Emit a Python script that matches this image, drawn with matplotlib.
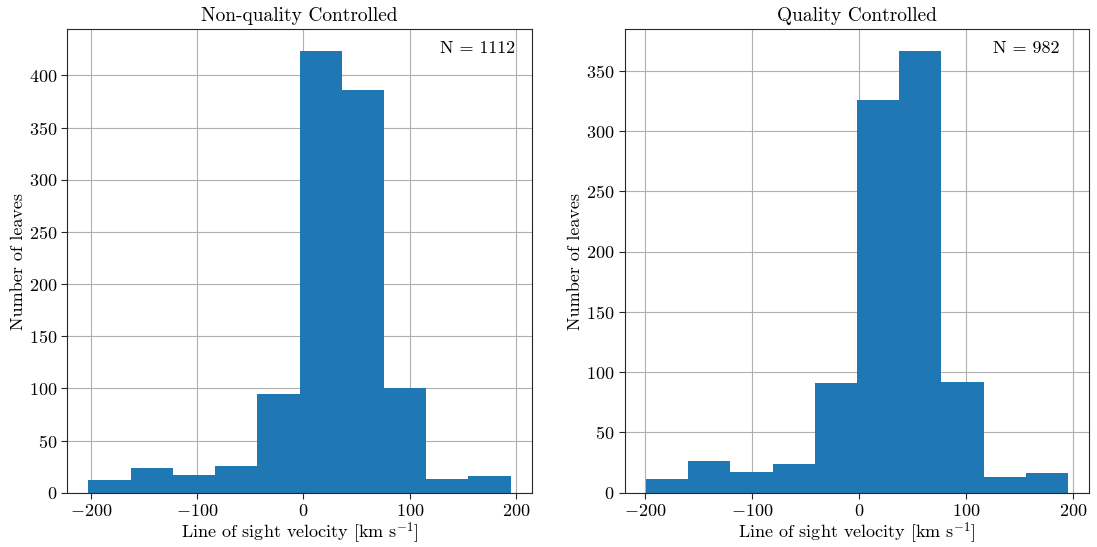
import numpy as np
import matplotlib
matplotlib.use("Agg")
import matplotlib.pyplot as plt

plt.rcParams['font.family'] = 'serif'
plt.rcParams['font.serif'] = ['cmr10']
plt.rcParams['mathtext.fontset'] = 'cm'
plt.rcParams['axes.formatter.use_mathtext'] = True
plt.rcParams['axes.unicode_minus'] = True

# bin edges (km/s) and counts
edges_raw = np.linspace(-202.2, 195.0, 11)
counts_raw = [12, 24, 17, 26, 95, 423, 386, 100, 13, 16]
edges_qc = np.linspace(-199.1, 195.1, 11)
counts_qc = [11, 26, 17, 24, 91, 326, 366, 92, 13, 16]

titles = ['Non-quality Controlled', 'Quality Controlled']
n_labels = ['N = 1112', 'N = 982']
n_xpos = [0.802, 0.793]

fig = plt.figure(figsize=(10.97, 5.47), dpi=100)
ax1 = fig.add_axes([0.0614, 0.0993, 0.4234, 0.847])
ax2 = fig.add_axes([0.5697, 0.0993, 0.4230, 0.847])

for ax, edges, counts, title, nlab, nx in zip([ax1, ax2], [edges_raw, edges_qc],
                                              [counts_raw, counts_qc], titles, n_labels, n_xpos):
    ax.hist(edges[:-1], bins=edges, weights=counts, color='#1f77b4', zorder=2)
    ax.grid(True, color='#b0b0b0', linewidth=0.8, zorder=0)
    ax.set_axisbelow(True)
    ax.set_title(title, fontsize=14)
    ax.set_xlabel(r'Line of sight velocity [km s$^{-1}$]', fontsize=13, labelpad=1)
    ax.set_ylabel('Number of leaves', fontsize=13, labelpad=2)
    ax.tick_params(labelsize=13, direction='out', length=4, color='#262626')
    for s in ax.spines.values():
        s.set_color('#262626')
    ax.set_xticks([-200, -100, 0, 100, 200])
    ax.text(nx, 0.96, nlab, transform=ax.transAxes, ha='left', va='center', fontsize=13)

ax2.set_yticks([0, 50, 100, 150, 200, 250, 300, 350])

fig.savefig('out.png', dpi=100)
